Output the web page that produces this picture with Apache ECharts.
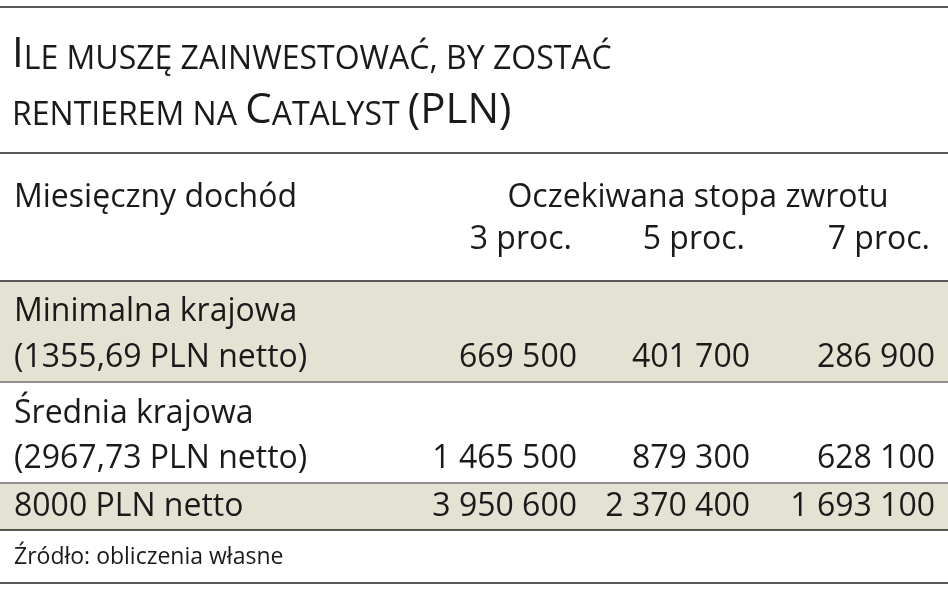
<!DOCTYPE html>
<html><head><meta charset="utf-8">
<script src="https://cdn.jsdelivr.net/npm/echarts@6/dist/echarts.min.js"></script>
<style>html,body{margin:0;padding:0;background:#fff}#chart{width:948px;height:593px}</style>
</head><body><div id="chart"></div>
<script>
var rowLabels = [['Minimalna krajowa', '(1355,69 PLN netto)'], ['Średnia krajowa', '(2967,73 PLN netto)'], ['8000 PLN netto']];
var colLabels = ['3 proc.', '5 proc.', '7 proc.'];
var values = [
	['669 500', '401 700', '286 900'],
	['1 465 500', '879 300', '628 100'],
	['3 950 600', '2 370 400', '1 693 100']
];
var source = 'Źródło: obliczenia własne';

var FONT = 'Open Sans';
var W = 948;
var colRight = [577, 750, 935];
var headRight = [572, 745, 930];
var rowTop = [281, 383, 484];
var rowBottom = [381, 482, 530];
var shade = [true, false, true];

var els = [];
function line(y, w) {
	els.push({ type: 'line', shape: { x1: 0, y1: y, x2: W, y2: y }, style: { stroke: '#222', lineWidth: w || 1.5 } });
}
function txt(x, y, s, align, size) {
	els.push({ type: 'text', x: x, y: y, style: { text: s, fill: '#1a1a1a', font: (size || 32) + 'px "' + FONT + '"', align: align || 'left', verticalAlign: 'middle' } });
}

// shaded rows
rowTop.forEach(function(t, i) {
	if (shade[i]) els.push({ type: 'rect', shape: { x: 0, y: t, width: W, height: rowBottom[i] - t }, style: { fill: '#e4e3d3' } });
});
line(7); line(153); line(281); line(382, 1); line(483, 1); line(530); line(583);

// title in small caps
els.push({
	type: 'text', x: 12, y: 76,
	style: {
		text: '{b|I}{s|LE MUSZĘ ZAINWESTOWAĆ, BY ZOSTAĆ}\n{s|RENTIEREM NA }{b|C}{s|ATALYST }{b|(PLN)}',
		verticalAlign: 'middle', lineHeight: 56, fill: '#1a1a1a',
		rich: {
			b: { font: '42px "' + FONT + '"', fill: '#1a1a1a', lineHeight: 56, verticalAlign: 'bottom' },
			s: { font: '32px "' + FONT + '"', fill: '#1a1a1a', lineHeight: 56, verticalAlign: 'bottom' }
		}
	}
});

txt(14, 198, 'Miesięczny dochód');
txt(698, 198, 'Oczekiwana stopa zwrotu', 'center');
colLabels.forEach(function(c, j) { txt(headRight[j], 240, c, 'right'); });

rowLabels.forEach(function(lbl, i) {
	var t = rowTop[i], b = rowBottom[i];
	if (lbl.length === 2) {
		txt(14, t + 31, lbl[0]);
		txt(14, b - 23, lbl[1]);
	} else {
		txt(14, (t + b) / 2, lbl[0]);
	}
	values[i].forEach(function(v, j) {
		txt(colRight[j], lbl.length === 2 ? b - 23 : (t + b) / 2, v, 'right');
	});
});

txt(14, 557, source, 'left', 23);

var chart = echarts.init(document.getElementById('chart'));
chart.setOption({ backgroundColor: '#fff', graphic: { elements: els } });
</script></body></html>
